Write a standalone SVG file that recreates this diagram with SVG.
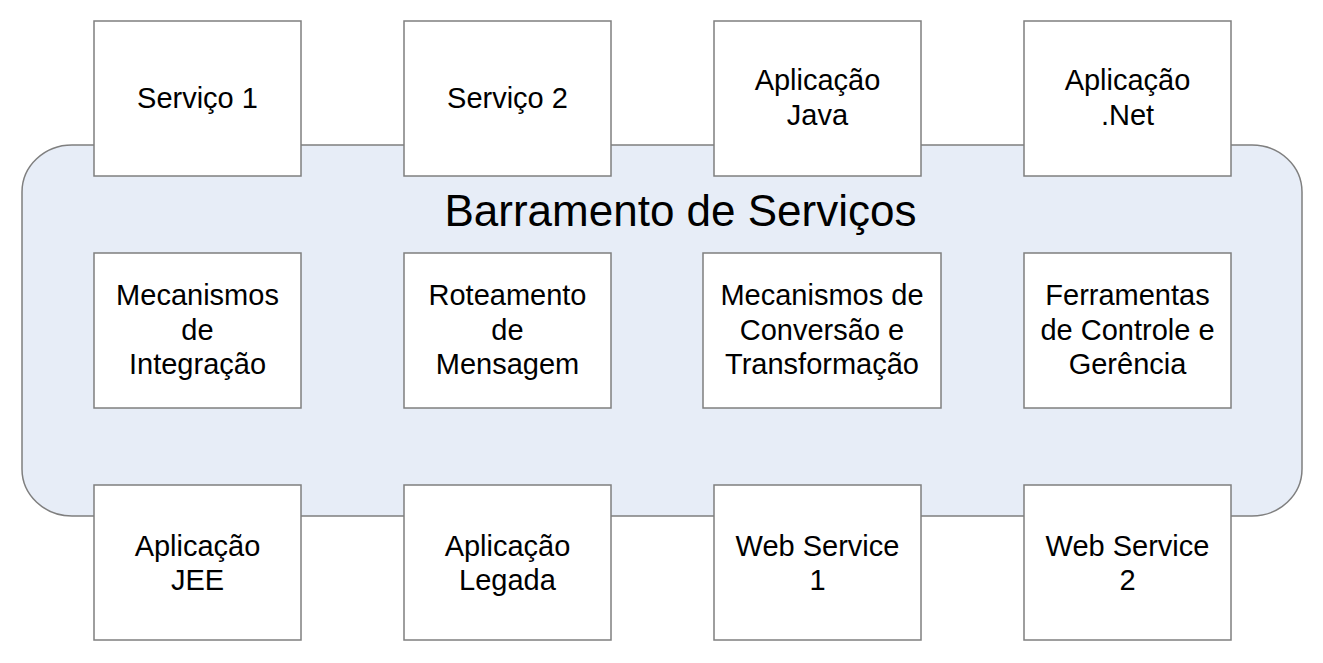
<svg xmlns="http://www.w3.org/2000/svg" width="1323" height="663" viewBox="0 0 1323 663">
<style>
.box{fill:#ffffff;stroke:#7f7f7f;stroke-width:1.5}
.bus{fill:#e7edf7;stroke:#7f7f7f;stroke-width:1.5}
.t{font-family:"Liberation Sans",Arial,sans-serif;font-size:29px;fill:#000;text-anchor:middle}
.title{font-family:"Liberation Sans",Arial,sans-serif;font-size:44px;fill:#000;text-anchor:middle}
</style>
<rect width="1323" height="663" fill="#ffffff"/>
<g id="bus">
<rect class="bus" x="22" y="145" width="1280" height="371" rx="50" ry="47"/>
<text class="title" x="680.5" y="226">Barramento de Serviços</text>
</g>
<g id="connectors"></g>
<g id="servico1"><rect class="box" x="94" y="21" width="207" height="155"/><text class="t" x="197.5" y="108">Serviço 1</text></g>
<g id="servico2"><rect class="box" x="404" y="21" width="207" height="155"/><text class="t" x="507.5" y="108">Serviço 2</text></g>
<g id="aplicacao-java"><rect class="box" x="714" y="21" width="207" height="155"/><text class="t" x="817.5" y="90">Aplicação</text><text class="t" x="817.5" y="124.5">Java</text></g>
<g id="aplicacao-net"><rect class="box" x="1024" y="21" width="207" height="155"/><text class="t" x="1127.5" y="90">Aplicação</text><text class="t" x="1127.5" y="124.5">.Net</text></g>
<g id="mecanismos-integracao"><rect class="box" x="94" y="253" width="207" height="155"/><text class="t" x="197.5" y="305">Mecanismos</text><text class="t" x="197.5" y="339.5">de</text><text class="t" x="197.5" y="374">Integração</text></g>
<g id="roteamento"><rect class="box" x="404" y="253" width="207" height="155"/><text class="t" x="507.5" y="305">Roteamento</text><text class="t" x="507.5" y="339.5">de</text><text class="t" x="507.5" y="374">Mensagem</text></g>
<g id="mecanismos-conversao"><rect class="box" x="703" y="253" width="238" height="155"/><text class="t" x="822" y="305">Mecanismos de</text><text class="t" x="822" y="339.5">Conversão e</text><text class="t" x="822" y="374">Transformação</text></g>
<g id="ferramentas"><rect class="box" x="1024" y="253" width="207" height="155"/><text class="t" x="1127.5" y="305">Ferramentas</text><text class="t" x="1127.5" y="339.5">de Controle e</text><text class="t" x="1127.5" y="374">Gerência</text></g>
<g id="aplicacao-jee"><rect class="box" x="94" y="485" width="207" height="155"/><text class="t" x="197.5" y="555.5">Aplicação</text><text class="t" x="197.5" y="590">JEE</text></g>
<g id="aplicacao-legada"><rect class="box" x="404" y="485" width="207" height="155"/><text class="t" x="507.5" y="555.5">Aplicação</text><text class="t" x="507.5" y="590">Legada</text></g>
<g id="web-service-1"><rect class="box" x="714" y="485" width="207" height="155"/><text class="t" x="817.5" y="555.5">Web Service</text><text class="t" x="817.5" y="590">1</text></g>
<g id="web-service-2"><rect class="box" x="1024" y="485" width="207" height="155"/><text class="t" x="1127.5" y="555.5">Web Service</text><text class="t" x="1127.5" y="590">2</text></g>
</svg>
